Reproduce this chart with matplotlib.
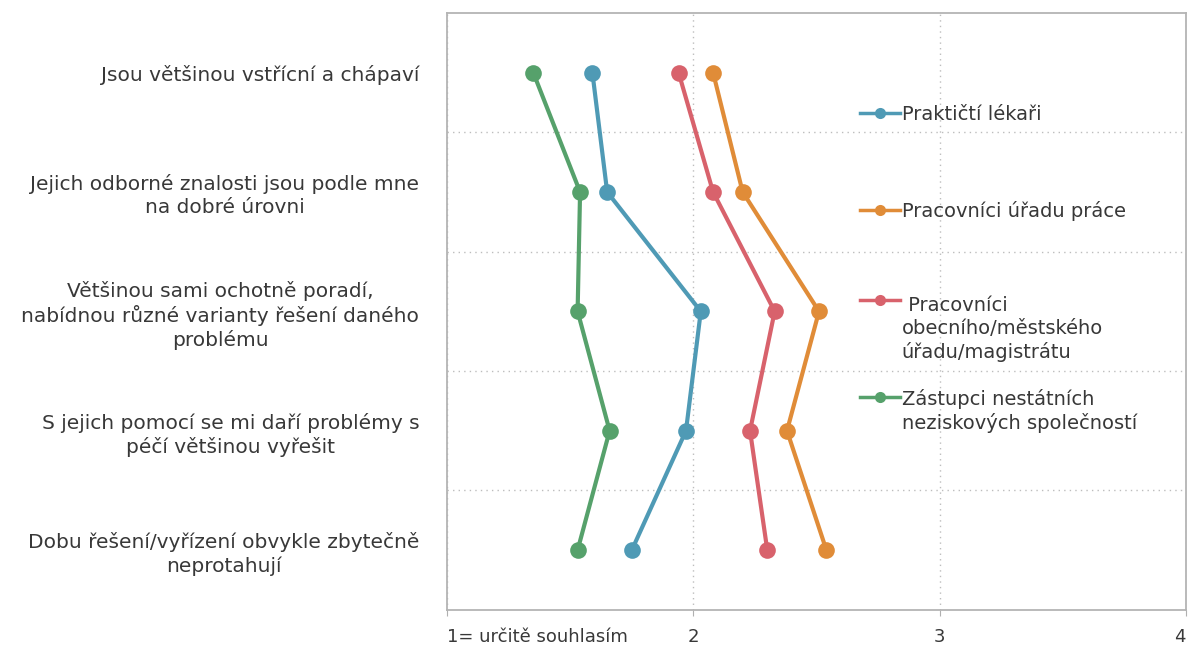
import matplotlib.pyplot as plt
from matplotlib.lines import Line2D

plt.rcParams['font.family'] = ['DejaVu Sans']

statements = [
    "Jsou většinou vstřícní a chápaví",
    "Jejich odborné znalosti jsou podle mne\nna dobré úrovni",
    "Většinou sami ochotně poradí,\nnabídnou různé varianty řešení daného\nproblému",
    "S jejich pomocí se mi daří problémy s\npéčí většinou vyřešit",
    "Dobu řešení/vyřízení obvykle zbytečně\nneprotahují",
]

groups = [
    "Praktičtí lékaři",
    "Pracovníci úřadu práce",
    " Pracovníci\nobecního/městského\núřadu/magistrátu",
    "Zástupci nestátních\nneziskových společností",
]

# mean agreement score (1 = definitely agree ... 4)
prakticti = [1.59, 1.65, 2.03, 1.97, 1.75]
urad_prace = [2.08, 2.20, 2.51, 2.38, 2.54]
obecni_urad = [1.94, 2.08, 2.33, 2.23, 2.30]
neziskovky = [1.35, 1.54, 1.53, 1.66, 1.53]

x_ticks = [1, 2, 3, 4]
x_ticklabels = ["1= určitě souhlasím", "2", "3", "4"]

colors = ["#4f9ab5", "#e08c38", "#d8626c", "#56a16b"]
series = [prakticti, urad_prace, obecni_urad, neziskovky]

txt_col = '#383838'

fig = plt.figure(figsize=(11.89, 6.46), dpi=100)
ax = fig.add_axes([0.376, 0.056, 0.6215, 0.924])

pos = list(range(len(statements)))
for vals, col in zip(series, colors):
    ax.plot(vals, pos, color=col, lw=3, marker='o', ms=12, mew=0, zorder=3)

ax.set_xlim(1, 4)
ax.set_ylim(len(statements) - 0.5, -0.5)

ax.set_xticks(x_ticks)
ax.set_xticklabels(x_ticklabels, fontsize=13, color=txt_col)
ax.get_xticklabels()[0].set_horizontalalignment('left')
ax.get_xticklabels()[-1].set_horizontalalignment('right')
ax.tick_params(axis='x', length=4, color='#b0b0b0', pad=9)

ax.set_yticks(pos)
ax.set_yticklabels(statements, fontsize=14.5, color=txt_col,
                   multialignment='center', linespacing=1.25)
ax.tick_params(axis='y', length=0, pad=20)
ax.set_yticks([p + 0.5 for p in pos[:-1]], minor=True)
ax.tick_params(axis='y', which='minor', length=0)

ax.grid(axis='x', which='major', ls=(0, (1, 3)), color='#bdbdbd', lw=1)
ax.grid(axis='y', which='minor', ls=(0, (1, 3)), color='#bdbdbd', lw=1)

for sp in ax.spines.values():
    sp.set_color('#b4b4b4')
    sp.set_linewidth(1.3)

# legend entries, one per series, down the right side of the plot;
# the handle sits level with the first line of each label
entry_y = [0.8325, 0.670, 0.519, 0.357]
line_step = 0.0425
for name, col, ty in zip(groups, colors, entry_y):
    ax.add_line(Line2D([0.559, 0.613], [ty, ty], transform=ax.transAxes,
                       color=col, lw=2.5, clip_on=False))
    ax.add_line(Line2D([0.586], [ty], transform=ax.transAxes,
                       color=col, marker='o', ms=8, mew=0, clip_on=False))
    n_extra = name.count('\n')
    ax.text(0.615, ty - 0.012 - n_extra * line_step, name,
            transform=ax.transAxes, va='baseline', ha='left',
            fontsize=14, color=txt_col, linespacing=1.25)

fig.savefig("out.png", dpi=100)
